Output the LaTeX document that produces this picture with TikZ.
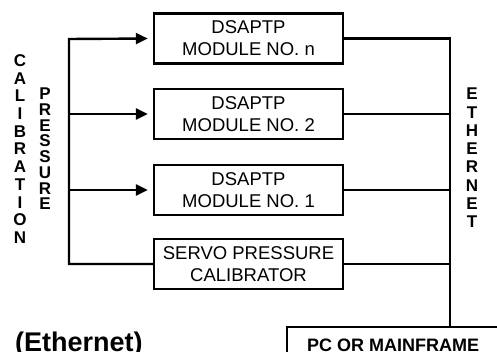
\documentclass[tikz,border=0pt]{standalone}
\usepackage{fontspec}
\setmainfont{Liberation Sans}
\usetikzlibrary{arrows.meta}

\tikzset{
  module/.style={draw, line width=2.4pt, minimum width=189pt, minimum height=50pt,
    align=center, font=\fontsize{18.5}{22}\selectfont},
  pcbox/.style={draw, line width=2.4pt, minimum width=212pt, minimum height=37pt,
    anchor=north west, font=\fontsize{18}{22}\selectfont\bfseries},
  wire/.style={line width=2.4pt},
  feed/.style={line width=2.4pt, -{Triangle[length=12pt,width=11pt]}, shorten >=5pt},
  letters/.style={align=center, inner sep=0pt}
}

\begin{document}
\begin{tikzpicture}[x=1pt, y=-1pt]
  \useasboundingbox (0,0) rectangle (497,352);
  % modules
  \node[module] (modn) at (248.5,38.5) {DSAPTP\\MODULE NO. n};
  \node[module] (mod2) at (248.5,114) {DSAPTP\\MODULE NO. 2};
  \node[module] (mod1) at (248.5,190) {DSAPTP\\MODULE NO. 1};
  \node[module] (servo) at (248.5,264) {SERVO PRESSURE\\CALIBRATOR};
  \node[pcbox] (pc) at (286,326) {PC OR MAINFRAME};
  % bus corners
  \coordinate (ltop) at (69,39);
  \coordinate (rtop) at (450,39);
  % pressure side
  \draw[feed] (servo.west) -| (ltop) -- (modn.west);
  \draw[feed] (ltop |- mod2.west) -- (mod2.west);
  \draw[feed] (ltop |- mod1.west) -- (mod1.west);
  % ethernet side
  \draw[wire] (modn.east) -| (rtop |- pc.north);
  \draw[wire] (mod2.east) -- (mod2.east -| rtop);
  \draw[wire] (mod1.east) -- (mod1.east -| rtop);
  \draw[wire] (servo.east) -- (servo.east -| rtop);
  % labels
  \node[letters, font=\fontsize{17}{17.7}\selectfont\bfseries] (calib) at (20,149)
    {C\\A\\L\\I\\B\\R\\A\\T\\I\\O\\N};
  \node[letters, font=\fontsize{17}{15.7}\selectfont\bfseries] (press) at (45,149)
    {P\\R\\E\\S\\S\\U\\R\\E};
  \node[letters, font=\fontsize{17}{18.3}\selectfont\bfseries] (ether) at (472,158)
    {E\\T\\H\\E\\R\\N\\E\\T};
  \node[anchor=base west, inner sep=0pt, font=\fontsize{27}{30}\selectfont\bfseries]
    (title) at (15,351) {(Ethernet)};
\end{tikzpicture}
\end{document}
